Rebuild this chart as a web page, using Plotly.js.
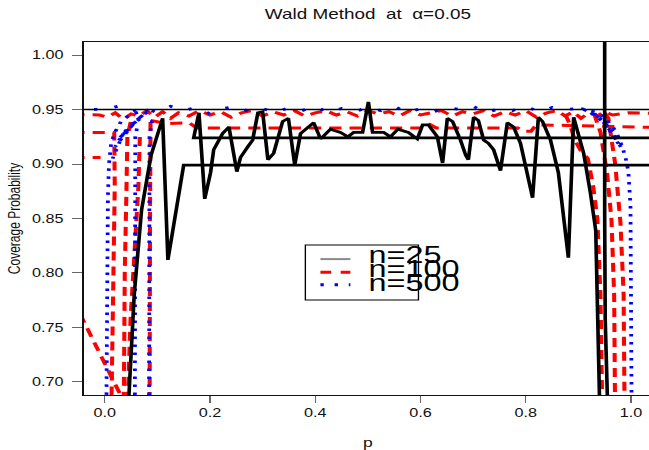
<!DOCTYPE html>
<html><head><meta charset="utf-8">
<script src="https://cdn.plot.ly/plotly-3.0.1.min.js"></script>
<style>
html,body{margin:0;padding:0;background:#fff;overflow:hidden}
#wrap{width:649px;height:450px;overflow:hidden;position:relative}
#chart{width:490px;height:450px;transform:scaleX(1.35);transform-origin:0 0}
</style>
</head><body><div id="wrap"><div id="chart"></div></div>
<script>
// ---------------- data ----------------
const seriesNames = ['n=25', 'n=100', 'n=500'];
const chartTitle = 'Wald Method  at  \u03b1=0.05';
const xTitle = 'p';
const yTitle = 'Coverage Probability';
const xTicks = [0, 0.2, 0.4, 0.6, 0.8, 1.0];
const yTicks = [0.70, 0.75, 0.80, 0.85, 0.90, 0.95, 1.00];
const nominal = 0.95;
const refP = [-0.1, 1.1];

// n = 25 (pieces separated by null)
const p_n25 = [
0.040,0.046,0.056,0.070,0.088,0.110,0.120,0.150,1.100,null,
1.100,0.169,0.179,0.190,0.201,0.207,0.224,0.236,0.251,0.258,
0.272,0.281,0.291,0.300,0.310,0.321,0.338,0.349,0.361,0.372,
0.397,0.410,0.429,0.448,0.462,0.473,0.490,0.501,0.509,0.530,
0.543,0.557,0.577,0.594,0.604,0.615,0.632,0.642,0.651,0.661,
0.676,0.686,0.691,0.701,0.710,0.720,0.729,0.739,0.752,0.765,
0.777,0.790,0.813,0.824,0.832,0.847,0.862,0.881,0.891,0.910,
0.923,0.933,0.940,0.942,null,
0.956,0.955,0.951,0.950,0.950];
const cov_n25 = [
0.600,0.688,0.780,0.858,0.908,0.942,0.812,0.899,0.899,null,
0.924,0.924,0.947,0.868,0.892,0.913,0.928,0.934,0.893,0.906,
0.916,0.922,0.947,0.948,0.904,0.910,0.939,0.942,0.899,0.928,
0.938,0.923,0.932,0.929,0.925,0.929,0.929,0.957,0.929,0.929,
0.925,0.932,0.929,0.923,0.936,0.936,0.925,0.901,0.942,0.939,
0.922,0.908,0.904,0.943,0.940,0.922,0.919,0.913,0.894,0.938,
0.934,0.919,0.869,0.943,0.939,0.922,0.892,0.814,0.943,0.910,
0.873,0.839,0.688,0.600,null,
0.600,0.688,0.757,0.850,1.100];

// n = 100
const p_n100 = [
-0.060,0.030,0.036,null,
-0.100,-0.008,null,
-0.100,0.018,0.019,0.016,0.013,0.012,null,
0.035,0.036,0.038,0.041,0.043,0.050,null,
0.043,0.044,0.049,0.057,0.064,0.067,null,
0.085,0.085,0.086,0.087,null,
-0.100,-0.010,0.005,0.020,0.035,0.050,0.065,0.080,0.095,0.110,
0.125,0.140,0.160,0.180,0.200,0.220,0.240,0.260,0.280,0.300,
0.320,0.340,0.360,0.380,0.400,0.420,0.440,0.460,0.480,0.500,
0.520,0.540,0.560,0.580,0.600,0.620,0.640,0.660,0.680,0.700,
0.720,0.740,0.760,0.780,0.800,0.820,0.840,0.860,
0.875,0.890,0.905,0.920,0.935,0.950,0.965,0.980,0.995,1.100,null,
0.087,0.120,0.160,0.175,0.300,0.600,0.615,0.630,0.785,0.795,0.810,0.820,1.100,null,
0.875,0.885,0.893,0.905,0.918,0.928,0.936,0.942,0.945,0.946,null,
0.930,0.942,0.955,0.963,0.968,0.970,0.971,null,
0.950,0.957,0.970,0.980,0.986,0.988,0.989];
const cov_n100 = [
0.775,0.688,0.650,null,
0.906,0.906,null,
0.929,0.929,0.880,0.800,0.688,0.600,null,
0.600,0.688,0.800,0.870,0.925,0.940,null,
0.600,0.688,0.757,0.830,0.880,0.930,null,
0.600,0.700,0.850,0.940,null,
0.946,0.945,0.943,0.947,0.941,0.946,0.944,0.949,0.943,0.948,
0.942,0.947,0.944,0.949,0.945,0.948,0.943,0.947,0.949,0.944,
0.948,0.945,0.949,0.944,0.947,0.949,0.945,0.948,0.944,0.949,
0.946,0.948,0.944,0.949,0.945,0.947,0.949,0.944,0.948,0.946,
0.949,0.944,0.948,0.945,0.949,0.943,0.947,0.949,
0.944,0.948,0.942,0.947,0.944,0.948,0.945,0.946,0.947,0.946,null,
0.940,0.937,0.938,0.933,0.933,0.933,0.937,0.933,0.933,0.930,0.930,0.936,0.933,null,
0.946,0.935,0.922,0.912,0.905,0.880,0.850,0.780,0.688,0.600,null,
0.946,0.929,0.890,0.848,0.780,0.688,0.600,null,
0.947,0.942,0.900,0.846,0.780,0.688,0.600];

// n = 500: edge curves near p = 0 and p = 1
const p_n500 = [
0.002,0.003,0.004,0.006,0.008,0.012,0.018,0.025,0.032,0.045,0.060,0.087,
0.060,0.075,0.048,0.068,0.038,0.058,0.028,0.048,0.020,0.035,0.015,null,
0.057,0.057,0.058,0.058,0.062,null,
0.084,0.084,0.085,0.090,null,
0.910,0.940,0.920,0.955,0.932,0.966,0.945,0.975,0.955,0.982,0.965,null,
0.905,0.930,0.950,0.967,0.975,0.984,0.990,0.995,0.999,1.000,1.001,1.001];
const cov_n500 = [
0.600,0.688,0.800,0.870,0.900,0.918,0.928,0.935,0.940,0.944,0.947,0.950,
0.940,0.946,0.935,0.942,0.930,0.938,0.924,0.933,0.916,0.928,0.905,null,
0.600,0.700,0.850,0.925,0.935,null,
0.600,0.800,0.925,0.940,null,
0.950,0.944,0.948,0.938,0.945,0.930,0.940,0.922,0.934,0.915,0.926,null,
0.951,0.948,0.943,0.933,0.926,0.915,0.905,0.893,0.862,0.800,0.688,0.600];
// n = 500: band close to the nominal level
const p_n500_top = [
-0.100,0.000,0.025,0.050,0.075,0.100,0.125,0.150,0.175,0.200,
0.225,0.250,0.275,0.300,0.325,0.350,0.375,0.400,0.425,0.450,
0.475,0.500,0.525,0.550,0.575,0.600,0.625,0.650,0.675,0.700,
0.725,0.750,0.775,0.800,0.825,0.850,0.875,0.900,0.910];
const cov_n500_top = [
0.951,0.950,0.953,0.948,0.952,0.947,0.953,0.949,0.952,0.946,
0.951,0.953,0.948,0.951,0.947,0.952,0.949,0.953,0.947,0.951,
0.948,0.952,0.949,0.953,0.947,0.951,0.948,0.952,0.950,0.953,
0.947,0.951,0.949,0.953,0.948,0.952,0.950,0.951,0.950];

// ---------------- drawing ----------------
const FONT = '"Liberation Sans", Arial, Helvetica, sans-serif';
const traces = [
  {x: p_n100, y: cov_n100, name: seriesNames[1], mode: 'lines', connectgaps: false,
   line: {color: '#ff0000', width: 3, dash: '9px,6px'}, hoverinfo: 'skip'},
  {x: p_n500, y: cov_n500, name: seriesNames[2], mode: 'lines', connectgaps: false,
   line: {color: '#0000ff', width: 2.8, dash: '2.5px,5.5px'}, hoverinfo: 'skip'},
  {x: p_n500_top, y: cov_n500_top, name: seriesNames[2], mode: 'lines', connectgaps: false,
   line: {color: '#0000ff', width: 2.8, dash: '2.5px,13px'}, hoverinfo: 'skip'},
  {x: p_n25, y: cov_n25, name: seriesNames[0], mode: 'lines', connectgaps: false,
   line: {color: '#000000', width: 2.7}, hoverinfo: 'skip'},
  {x: refP, y: [nominal, nominal], name: 'nominal', mode: 'lines',
   line: {color: '#000000', width: 1.6}, hoverinfo: 'skip'}
];

const legBox = {x0: 0.390, x1: 0.589, y0: 0.269, y1: 0.425};
const legRowsY = [0.385, 0.348, 0.312];
const legTextY = [0.397, 0.357, 0.320];
const legStyles = [
  {color: '#8a8a8a', width: 2, dash: 'solid'},
  {color: '#ff0000', width: 3, dash: '8px,7px'},
  {color: '#0000ff', width: 3, dash: '2.5px,8px'}
];
const shapes = [{type: 'rect', xref: 'paper', yref: 'paper', x0: legBox.x0, x1: legBox.x1,
  y0: legBox.y0, y1: legBox.y1, line: {color: '#000', width: 1}, fillcolor: '#fff', layer: 'above'}];
const annotations = [];
seriesNames.forEach((nm, i) => {
  shapes.push({type: 'line', xref: 'paper', yref: 'paper', x0: 0.4165, x1: 0.4692,
    y0: legRowsY[i], y1: legRowsY[i], line: legStyles[i], layer: 'above'});
  annotations.push({xref: 'paper', yref: 'paper', x: 0.4956, y: legTextY[i], text: nm,
    showarrow: false, xanchor: 'left', yanchor: 'middle',
    font: {family: FONT, size: 24, color: '#000'}});
});

const layout = {
  width: 490, height: 450,
  margin: {l: 61.5, r: 7, t: 42, b: 55, pad: 0},
  paper_bgcolor: '#fff', plot_bgcolor: '#fff',
  showlegend: false,
  title: {text: chartTitle, font: {family: FONT, size: 14, color: '#111'},
          x: 0.5, xref: 'paper', xanchor: 'center', y: 1 - 14 / 450, yref: 'container', yanchor: 'middle'},
  xaxis: {range: [-0.04, 1.04], tickvals: xTicks, tickformat: '.1f', ticks: 'outside', ticklen: 7,
          tickwidth: 1, tickcolor: '#666', showline: true, mirror: true, linecolor: '#111', linewidth: 1,
          showgrid: false, zeroline: false, tickfont: {family: FONT, size: 12, color: '#111'},
          title: {text: xTitle, font: {family: FONT, size: 13, color: '#111'}, standoff: 22}},
  yaxis: {range: [0.688, 1.012], tickvals: yTicks, tickformat: '.2f', ticks: 'outside', ticklen: 7.5,
          tickwidth: 1, tickcolor: '#666', showline: true, mirror: true, linecolor: '#111', linewidth: 1,
          showgrid: false, zeroline: false, ticklabelstandoff: 4,
          tickfont: {family: FONT, size: 12, color: '#111'},
          title: {text: yTitle, font: {family: FONT, size: 12, color: '#111'}, standoff: 5}},
  shapes: shapes,
  annotations: annotations
};

Plotly.newPlot('chart', traces, layout, {staticPlot: true, displayModeBar: false});
</script>
</body></html>
